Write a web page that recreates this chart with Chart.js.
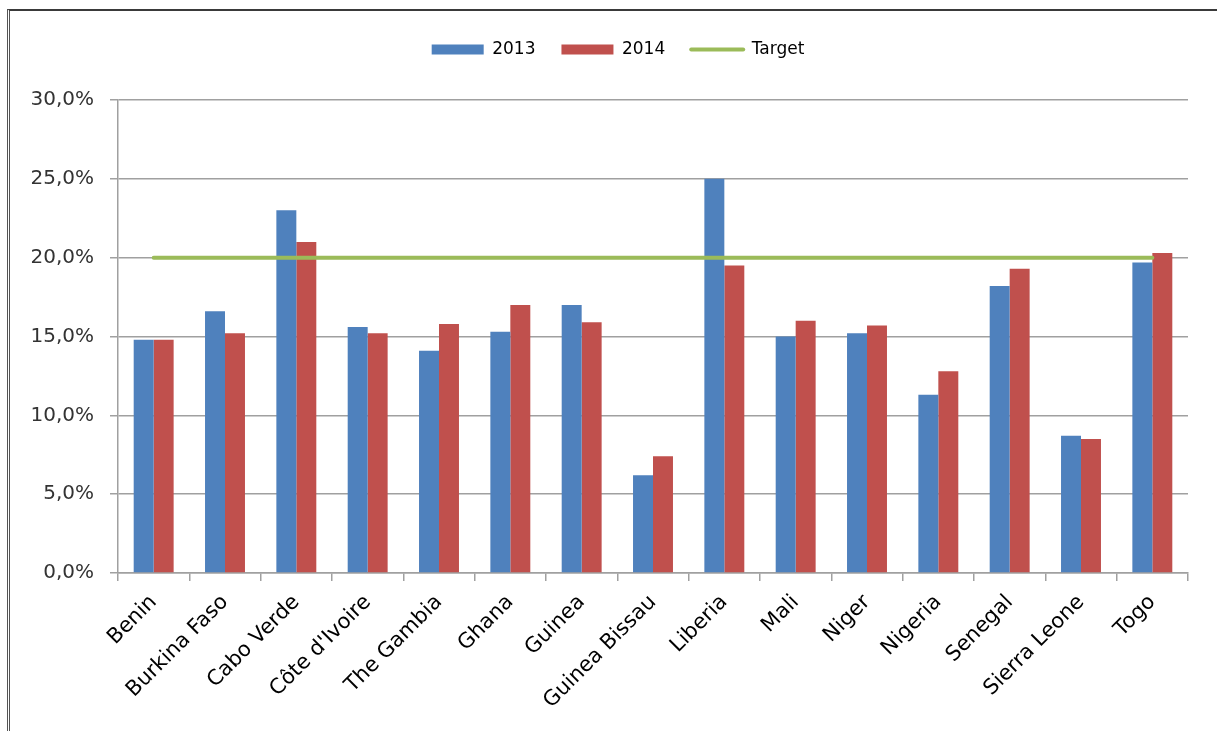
<!DOCTYPE html>
<html>
<head>
<meta charset="utf-8">
<script src="https://cdn.jsdelivr.net/npm/chart.js@4/dist/chart.umd.min.js"></script>
<style>
  body { margin: 0; background: #fff; }
  #moldura { position: absolute; left: 7px; top: 9px; width: 1300px; height: 800px;
             border-top: 2px solid #3a3a3a; border-left: 3px double #555; }
  #grafico { position: absolute; left: 0; top: 0; }
</style>
</head>
<body>
<div id="moldura"></div>
<canvas id="grafico" width="1217" height="731"></canvas>
<script>
const paises = ['Benin', 'Burkina Faso', 'Cabo Verde', "Côte d'Ivoire", 'The Gambia', 'Ghana', 'Guinea',
  'Guinea Bissau', 'Liberia', 'Mali', 'Niger', 'Nigeria', 'Senegal', 'Sierra Leone', 'Togo'];
const valores2013 = [14.8, 16.6, 23.0, 15.6, 14.1, 15.3, 17.0, 6.2, 25.0, 15.0, 15.2, 11.3, 18.2, 8.7, 19.7];
const valores2014 = [14.8, 15.2, 21.0, 15.2, 15.8, 17.0, 15.9, 7.4, 19.5, 16.0, 15.7, 12.8, 19.3, 8.5, 20.3];
const meta = [20, 20, 20, 20, 20, 20, 20, 20, 20, 20, 20, 20, 20, 20, 20];
const ticksY = [0, 5, 10, 15, 20, 25, 30];

const fonte = "'DejaVu Sans', sans-serif";
const azul = '#4F81BD';
const vermelho = '#C0504D';
const verde = '#9BBB59';

// aumenta a altura da legenda e empurra ela um pouco pra direita
const ajusteLegenda = {
  id: 'ajusteLegenda',
  afterInit(chart) {
    let lg = chart.legend;
    let fitOriginal = lg.fit.bind(lg);
    lg.fit = function () { fitOriginal(); this.height += 32; };
  },
  afterLayout(chart) {
    chart.legend.left += 19;
    chart.legend.right += 19;
  }
};

let ctx = document.getElementById('grafico').getContext('2d');

new Chart(ctx, {
  data: {
    labels: paises,
    datasets: [
      { type: 'bar', label: '2013', data: valores2013, backgroundColor: azul,
        categoryPercentage: 0.56, barPercentage: 1 },
      { type: 'bar', label: '2014', data: valores2014, backgroundColor: vermelho,
        categoryPercentage: 0.56, barPercentage: 1 },
      { type: 'line', label: 'Target', data: meta, borderColor: verde, backgroundColor: verde, order: -1,
        borderWidth: 4, pointRadius: 0, borderCapStyle: 'round', fill: false }
    ]
  },
  options: {
    responsive: false,
    animation: false,
    layout: { padding: { left: 10, right: 29, top: 15, bottom: 0 } },
    plugins: {
      tooltip: { enabled: false },
      legend: {
        position: 'top',
        labels: {
          font: { family: fonte, size: 17 },
          color: '#000',
          usePointStyle: true,
          pointStyleWidth: 52,
          boxHeight: 10,
          padding: 26,
          generateLabels: (chart) => chart.data.datasets.map((ds, i) => ({
            text: ds.label,
            fillStyle: ds.type === 'line' ? ds.borderColor : ds.backgroundColor,
            strokeStyle: ds.type === 'line' ? ds.borderColor : ds.backgroundColor,
            lineWidth: ds.type === 'line' ? 4 : 0,
            lineCap: 'round',
            pointStyle: ds.type === 'line' ? 'line' : 'rect',
            hidden: false,
            datasetIndex: i,
            fontColor: '#000'
          }))
        }
      }
    },
    scales: {
      x: {
        offset: true,
        grid: { offset: true, drawOnChartArea: false, drawTicks: true, tickLength: 8, color: '#a0a0a0', lineWidth: 1.5 },
        border: { color: '#a0a0a0', width: 1.5 },
        ticks: { font: { family: fonte, size: 21 }, color: '#000', minRotation: 45, maxRotation: 45, padding: 9 },
        afterFit: (scale) => { scale.height = 158; }
      },
      y: {
        min: 0,
        max: 30,
        afterBuildTicks: (scale) => { scale.ticks = ticksY.map(v => ({ value: v })); },
        grid: { color: '#a0a0a0', lineWidth: 1.5, tickLength: 8 },
        border: { color: '#a0a0a0', width: 1.5 },
        ticks: {
          font: { family: fonte, size: 20 },
          color: '#333',
          padding: 16,
          callback: (v) => v.toFixed(1).replace('.', ',') + '%'
        },
        afterFit: (scale) => { scale.width = 108; }
      }
    }
  },
  plugins: [ajusteLegenda]
});
</script>
</body>
</html>
